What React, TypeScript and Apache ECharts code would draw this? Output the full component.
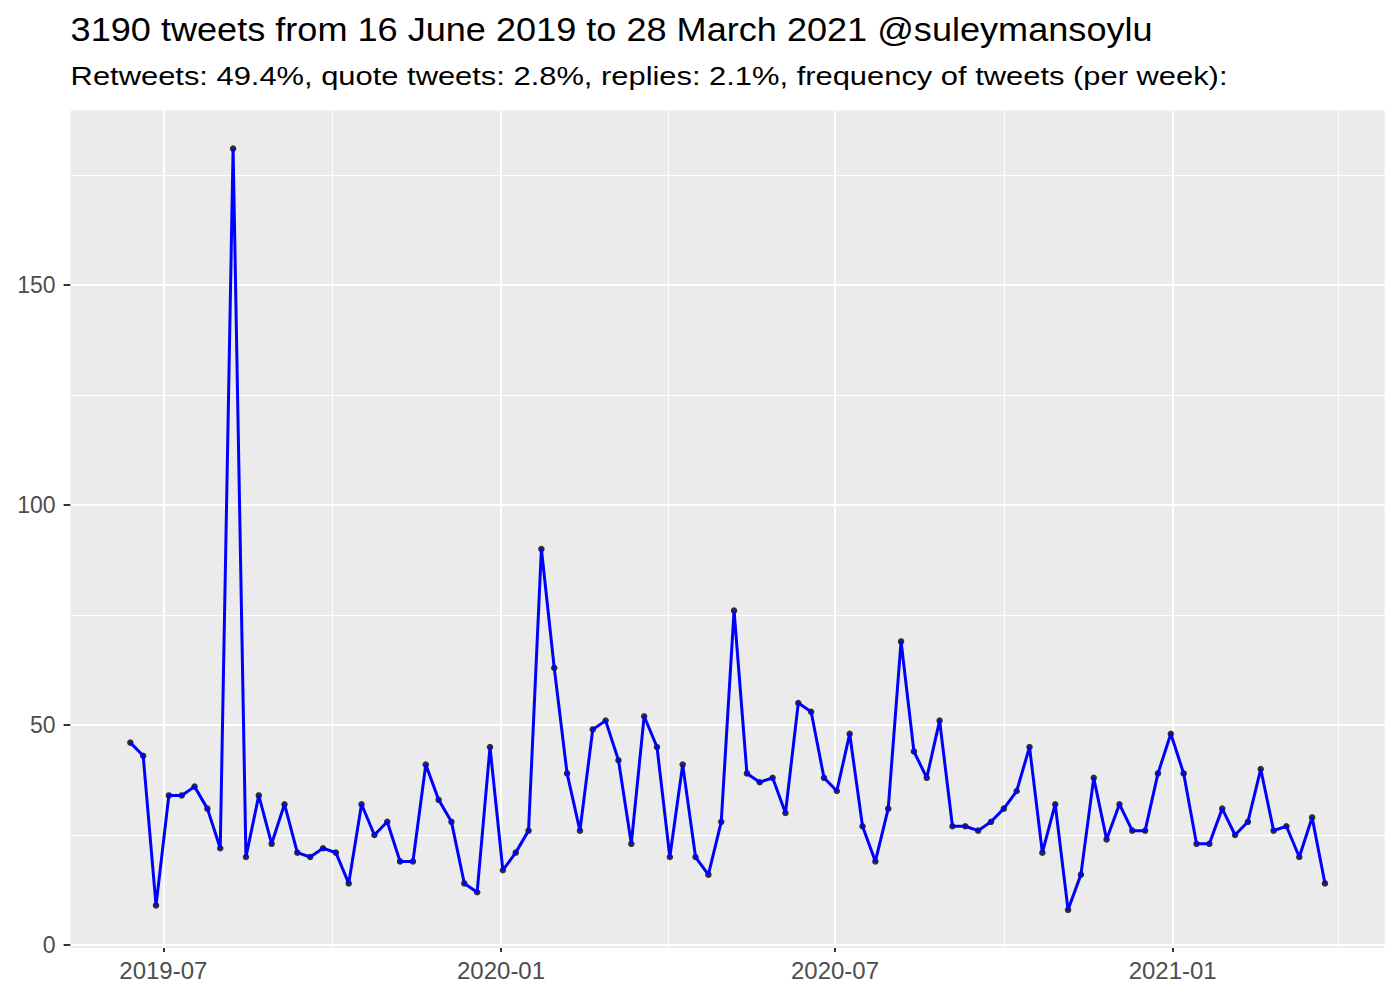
import React, { useEffect, useRef } from "react";
import * as echarts from "echarts";

// Weekly bins (weeks start on Thursday, first bin 2019-06-13)
const firstWeek = "2019-06-13";
const tweetsPerWeek = [
  46, 43, 9, 34, 34, 36, 31, 22, 181, 20,
  34, 23, 32, 21, 20, 22, 21, 14, 32, 25,
  28, 19, 19, 41, 33, 28, 14, 12, 45, 17,
  21, 26, 90, 63, 39, 26, 49, 51, 42, 23,
  52, 45, 20, 41, 20, 16, 28, 76, 39, 37,
  38, 30, 55, 53, 38, 35, 48, 27, 19, 31,
  69, 44, 38, 51, 27, 27, 26, 28, 31, 35,
  45, 21, 32, 8, 16, 38, 24, 32, 26, 26,
  39, 48, 39, 23, 23, 31, 25, 28, 40, 26,
  27, 20, 29, 14,
];

const xMajorTicks = ["2019-07-01", "2020-01-01", "2020-07-01", "2021-01-01"];
const xMinorTicks = ["2019-10-01", "2020-04-01", "2020-10-01", "2021-04-01"];
const yMajorTicks = [0, 50, 100, 150];
const yMinorTicks = [25, 75, 125, 175];

const titleText = "3190 tweets from 16 June 2019 to 28 March 2021 @suleymansoylu";
const subtitleText =
  "Retweets: 49.4%, quote tweets: 2.8%, replies: 2.1%, frequency of tweets (per week):";

const DAY = 86400000;
const toMs = (s: string) => {
  const [y, m, d] = s.split("-").map(Number);
  return Date.UTC(y, m - 1, d);
};

export default function App() {
  const ref = useRef<HTMLDivElement>(null);

  useEffect(() => {
    document.body.style.margin = "0";
    if (!ref.current) return;
    const chart = echarts.init(ref.current, undefined, { renderer: "svg" });

    const start = toMs(firstWeek);
    const weekMs = tweetsPerWeek.map((_, i) => start + i * 7 * DAY);
    const points = weekMs.map((t, i) => [t, tweetsPerWeek[i]]);

    const xSpan = weekMs[weekMs.length - 1] - weekMs[0];
    const xMin = weekMs[0] - xSpan * 0.05;
    const xMax = weekMs[weekMs.length - 1] + xSpan * 0.05;
    const yLo = Math.min(...tweetsPerWeek);
    const yHi = Math.max(...tweetsPerWeek);
    const ySpan = yHi - yLo;
    const yMin = yLo - ySpan * 0.05;
    const yMax = yHi + ySpan * 0.05;

    const font = "Liberation Sans";
    const majorStyle = { color: "#FFFFFF", width: 2, type: "solid" as const };
    const minorStyle = { color: "#FFFFFF", width: 1, type: "solid" as const };

    const gridLines = [
      ...yMinorTicks.map((v) => ({ yAxis: v, lineStyle: minorStyle })),
      ...xMinorTicks.map((s) => ({ xAxis: toMs(s), lineStyle: minorStyle })),
      ...yMajorTicks.map((v) => ({ yAxis: v, lineStyle: majorStyle })),
      ...xMajorTicks.map((s) => ({ xAxis: toMs(s), lineStyle: majorStyle })),
    ];

    const pad = (n: number) => (n < 10 ? "0" + n : "" + n);

    chart.setOption({
      animation: false,
      backgroundColor: "#FFFFFF",
      textStyle: { fontFamily: font },
      graphic: [
        {
          type: "text",
          x: 70.6,
          y: 30,
          scaleX: 1.094,
          style: {
            text: titleText,
            fill: "#000000",
            fontSize: 33,
            fontFamily: font,
            align: "left",
            verticalAlign: "middle",
          },
        },
        {
          type: "text",
          x: 70.6,
          y: 76,
          scaleX: 1.166,
          style: {
            text: subtitleText,
            fill: "#000000",
            fontSize: 26.5,
            fontFamily: font,
            align: "left",
            verticalAlign: "middle",
          },
        },
      ],
      grid: {
        left: 70.6,
        right: 15.3,
        top: 110.5,
        bottom: 52.1,
        show: true,
        backgroundColor: "#EBEBEB",
        borderWidth: 0,
        containLabel: false,
      },
      xAxis: {
        type: "value",
        min: xMin,
        max: xMax,
        axisLine: { show: false },
        splitLine: { show: false },
        axisTick: {
          show: true,
          length: 7,
          lineStyle: { color: "#333333", width: 2 },
          customValues: xMajorTicks.map(toMs),
        },
        axisLabel: {
          show: true,
          color: "#4D4D4D",
          fontSize: 24,
          fontFamily: font,
          margin: 11,
          customValues: xMajorTicks.map(toMs),
          formatter: (v: number) => {
            const d = new Date(v);
            return d.getUTCFullYear() + "-" + pad(d.getUTCMonth() + 1);
          },
        },
      },
      yAxis: {
        type: "value",
        min: yMin,
        max: yMax,
        axisLine: { show: false },
        splitLine: { show: false },
        axisTick: {
          show: true,
          length: 7,
          lineStyle: { color: "#333333", width: 2 },
          customValues: yMajorTicks,
        },
        axisLabel: {
          show: true,
          color: "#4D4D4D",
          fontSize: 23,
          fontFamily: font,
          margin: 15,
          customValues: yMajorTicks,
          formatter: (v: number) => String(v),
        },
      },
      series: [
        {
          type: "scatter",
          data: points,
          symbol: "circle",
          symbolSize: 6.5,
          itemStyle: { color: "#000000" },
          z: 2,
          silent: true,
          markLine: {
            silent: true,
            symbol: "none",
            z: 1,
            label: { show: false },
            emphasis: { disabled: true },
            data: gridLines,
          },
        },
        {
          type: "line",
          data: points,
          showSymbol: false,
          symbol: "none",
          lineStyle: { color: "#0000FF", width: 3 },
          z: 3,
          silent: true,
        },
      ],
    });

    return () => chart.dispose();
  }, []);

  return <div ref={ref} style={{ width: 1400, height: 1000 }} />;
}
